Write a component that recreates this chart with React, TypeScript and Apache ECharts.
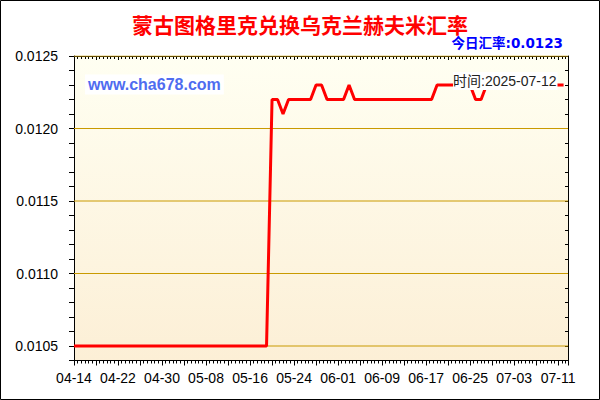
import React, { useEffect, useRef } from "react";
import * as echarts from "echarts";

const titleText = "蒙古图格里克兑换乌克兰赫夫米汇率";
const todayRateText = "今日汇率:0.0123";
const siteText = "www.cha678.com";
const timeText = "时间:2025-07-12";

const dates: string[] = [
  "04-14", "04-15", "04-16", "04-17", "04-18", "04-19", "04-20", "04-21", "04-22", "04-23",
  "04-24", "04-25", "04-26", "04-27", "04-28", "04-29", "04-30",
  "05-01", "05-02", "05-03", "05-04", "05-05", "05-06", "05-07", "05-08", "05-09", "05-10",
  "05-11", "05-12", "05-13", "05-14", "05-15", "05-16", "05-17", "05-18", "05-19", "05-20",
  "05-21", "05-22", "05-23", "05-24", "05-25", "05-26", "05-27", "05-28", "05-29", "05-30", "05-31",
  "06-01", "06-02", "06-03", "06-04", "06-05", "06-06", "06-07", "06-08", "06-09", "06-10",
  "06-11", "06-12", "06-13", "06-14", "06-15", "06-16", "06-17", "06-18", "06-19", "06-20",
  "06-21", "06-22", "06-23", "06-24", "06-25", "06-26", "06-27", "06-28", "06-29", "06-30",
  "07-01", "07-02", "07-03", "07-04", "07-05", "07-06", "07-07", "07-08", "07-09", "07-10",
  "07-11", "07-12",
];

const rates: number[] = [
  0.0105, 0.0105, 0.0105, 0.0105, 0.0105, 0.0105, 0.0105, 0.0105, 0.0105, 0.0105,
  0.0105, 0.0105, 0.0105, 0.0105, 0.0105, 0.0105, 0.0105, 0.0105, 0.0105, 0.0105,
  0.0105, 0.0105, 0.0105, 0.0105, 0.0105, 0.0105, 0.0105, 0.0105, 0.0105, 0.0105,
  0.0105, 0.0105, 0.0105, 0.0105, 0.0105, 0.0105,
  0.0122, 0.0122, 0.0121, 0.0122, 0.0122, 0.0122, 0.0122, 0.0122,
  0.0123, 0.0123,
  0.0122, 0.0122, 0.0122, 0.0122,
  0.0123,
  0.0122, 0.0122, 0.0122, 0.0122, 0.0122, 0.0122, 0.0122, 0.0122, 0.0122, 0.0122,
  0.0122, 0.0122, 0.0122, 0.0122, 0.0122,
  0.0123, 0.0123, 0.0123, 0.0123, 0.0123, 0.0123, 0.0123,
  0.0122, 0.0122,
  0.0123, 0.0123, 0.0123, 0.0123, 0.0123, 0.0123, 0.0123, 0.0123, 0.0123, 0.0123,
  0.0123, 0.0123, 0.0123, 0.0123, 0.0123,
];

const gridLevels: number[] = [0.0105, 0.011, 0.0115, 0.012, 0.0125];

const Y_MIN = 0.0104;
const Y_MAX = 0.0125;
const X_MAX = 89.8;

export default function App() {
  const ref = useRef<HTMLDivElement>(null);

  useEffect(() => {
    if (!ref.current) return;
    const chart = echarts.init(ref.current, null, { renderer: "svg" });
    const latin = '"Liberation Sans", Arial, "Noto Sans CJK SC", sans-serif';
    const cjk = '"Liberation Sans", "Noto Sans CJK SC", sans-serif';

    const xLabel = (v: number) => {
      const i = Math.round(v);
      return Math.abs(v - i) < 1e-6 && i % 8 === 0 && i < dates.length ? dates[i] : "";
    };
    const yLabel = (v: number) => {
      const k = Math.round(v * 10000);
      return k % 5 === 0 ? (k / 10000).toFixed(4) : "";
    };

    const gridSeries = gridLevels.map((g) => ({
      type: "line",
      xAxisIndex: 0,
      yAxisIndex: 0,
      data: [
        [0, g],
        [X_MAX, g],
      ],
      showSymbol: false,
      symbol: "none",
      silent: true,
      z: 1,
      lineStyle: { color: "#C99A00", width: 1 },
    }));

    chart.setOption({
      animation: false,
      backgroundColor: "#ffffff",
      grid: {
        left: 74,
        right: 32,
        top: 56,
        bottom: 39.5,
        show: true,
        borderWidth: 0,
        backgroundColor: new echarts.graphic.LinearGradient(0, 0, 0, 1, [
          { offset: 0, color: "#FFFFF2" },
          { offset: 1, color: "#FCEFD6" },
        ]),
      },
      xAxis: [
        {
          type: "value",
          position: "bottom",
          min: 0,
          max: X_MAX,
          interval: 4,
          axisLine: { show: true, lineStyle: { color: "#000", width: 1 } },
          axisTick: { show: true, inside: false, length: 5, lineStyle: { color: "#000" } },
          minorTick: { show: true, splitNumber: 6, length: 3, lineStyle: { color: "#000" } },
          axisLabel: {
            formatter: xLabel,
            color: "#000",
            fontSize: 14,
            fontFamily: latin,
            margin: 10,
            showMaxLabel: false,
          },
          splitLine: { show: false },
        },
        {
          type: "value",
          position: "top",
          min: 0,
          max: X_MAX,
          interval: 4,
          axisLine: { show: true, onZero: false, lineStyle: { color: "#000", width: 1 } },
          axisTick: { show: true, inside: true, length: 4, lineStyle: { color: "#000" } },
          minorTick: { show: true, splitNumber: 6, length: 3, lineStyle: { color: "#000" } },
          axisLabel: { show: false },
          splitLine: { show: false },
        },
      ],
      yAxis: [
        {
          type: "value",
          position: "left",
          min: Y_MIN,
          max: Y_MAX,
          interval: 0.0001,
          axisLine: { show: true, onZero: false, lineStyle: { color: "#000", width: 1 } },
          axisTick: { show: true, inside: false, length: 5, lineStyle: { color: "#000" } },
          axisLabel: {
            formatter: yLabel,
            color: "#000",
            fontSize: 14,
            fontFamily: latin,
            margin: 16,
          },
          splitLine: { show: false },
        },
        {
          type: "value",
          position: "right",
          min: Y_MIN,
          max: Y_MAX,
          interval: 0.0001,
          axisLine: { show: true, onZero: false, lineStyle: { color: "#000", width: 1 } },
          axisTick: { show: true, inside: true, length: 3, lineStyle: { color: "#000" } },
          axisLabel: { show: false },
          splitLine: { show: false },
        },
      ],
      series: [
        ...gridSeries,
        {
          type: "line",
          xAxisIndex: 0,
          yAxisIndex: 0,
          data: rates.map((v, i) => [i, v]),
          showSymbol: false,
          symbol: "none",
          z: 5,
          lineStyle: { color: "#FF0000", width: 3 },
        },
      ],
      graphic: [
        {
          type: "rect",
          z: 100,
          shape: { x: 0.5, y: 0.5, width: 599, height: 399 },
          style: { fill: "none", stroke: "#000", lineWidth: 1 },
        },
        {
          type: "text",
          z: 100,
          x: 300,
          y: 23.5,
          style: {
            text: titleText,
            fill: "#FF0000",
            font: 'bold 21px "Noto Sans CJK SC", sans-serif',
            textAlign: "center",
            textVerticalAlign: "middle",
          },
        },
        {
          type: "text",
          z: 100,
          x: 563,
          y: 42.5,
          style: {
            text: todayRateText,
            fill: "#0000FF",
            font: 'bold 13.5px "DejaVu Sans", "Noto Sans CJK SC", sans-serif',
            textAlign: "right",
            textVerticalAlign: "middle",
          },
        },
        {
          type: "text",
          z: 100,
          x: 85,
          y: 84.5,
          style: {
            text: siteText,
            fill: "#4F6CF0",
            font: 'bold 16px "Liberation Sans", Arial, sans-serif',
            textAlign: "left",
            textVerticalAlign: "middle",
            backgroundColor: "#FFFFFF",
            padding: [2, 3, 2, 3],
          },
        },
        {
          type: "text",
          z: 100,
          x: 453,
          y: 81,
          style: {
            text: timeText,
            fill: "#222222",
            font: "14px " + cjk,
            textAlign: "left",
            textVerticalAlign: "middle",
            backgroundColor: "#FFFFFF",
            padding: [2, 1, 2, 0],
          },
        },
      ],
    });

    return () => chart.dispose();
  }, []);

  return (
    <div
      ref={ref}
      style={{ position: "fixed", left: 0, top: 0, width: 600, height: 400 }}
    />
  );
}
